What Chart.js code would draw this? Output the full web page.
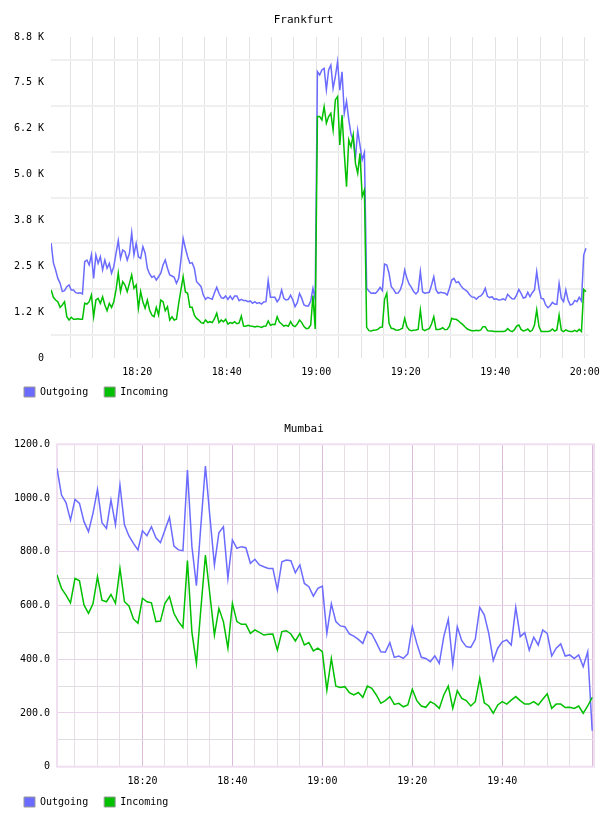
<!DOCTYPE html>
<html>
<head>
<meta charset="utf-8">
<script src="https://cdn.jsdelivr.net/npm/chart.js@4.4.0/dist/chart.umd.min.js"></script>
<style>
  html, body { margin: 0; padding: 0; background: #fff; overflow: hidden; }
  .box { position: absolute; left: 0; width: 608px; }
  #fra-box { top: 0; height: 407px; }
  #mum-box { top: 400px; height: 417px; }
</style>
</head>
<body>
<div class="box" id="fra-box"><canvas id="frankfurt"></canvas></div>
<div class="box" id="mum-box"><canvas id="mumbai"></canvas></div>
<script>
// --- data: minutes after 18:00 ---
const frankfurtStart = 0.75;   // first sample 18:00:45
const frankfurtStep = 0.5;     // 30 s samples
const frankfurtOutgoing = [
  3130, 2600, 2400, 2170, 2040, 1810, 1835, 1945, 1990, 1855,
  1855, 1780, 1765, 1780, 1745, 2625, 2670, 2535, 2810, 2170,
  2810, 2580, 2760, 2400, 2670, 2445, 2580, 2310, 2490, 2855,
  3200, 2715, 2945, 2900, 2670, 2855, 3415, 2810, 3125, 2760,
  2715, 3035, 2855, 2445, 2290, 2200, 2235, 2125, 2215, 2310,
  2535, 2670, 2445, 2265, 2235, 2200, 2035, 2170, 2670, 3260,
  2990, 2760, 2580, 2600, 2445, 2080, 2015, 1945, 1715, 1600,
  1655, 1625, 1600, 1780, 1925, 1765, 1645, 1625, 1690, 1600,
  1690, 1600, 1690, 1690, 1565, 1600, 1565, 1565, 1535, 1555,
  1490, 1535, 1490, 1510, 1470, 1525, 1535, 2110, 1655, 1655,
  1655, 1535, 1620, 1855, 1625, 1580, 1600, 1715, 1580, 1400,
  1510, 1760, 1625, 1445, 1420, 1420, 1550, 1900, 1600, 7805,
  7715, 7850, 7895, 7310, 7850, 7985, 7350, 7670, 8080, 7300,
  7800, 6670, 7000, 6500, 6100, 5950, 5450, 6200, 5800, 5400,
  5600, 1900, 1825, 1765, 1770, 1765, 1835, 1925, 1835, 2560,
  2535, 2310, 1945, 1870, 1765, 1770, 1855, 2035, 2400, 2170,
  2010, 1925, 1810, 1745, 1815, 2355, 1800, 1765, 1780, 1790,
  1990, 2215, 1855, 1765, 1790, 1780, 1765, 1715, 1900, 2125,
  2170, 2055, 2080, 1980, 1900, 1860, 1810, 1725, 1665, 1655,
  1600, 1665, 1690, 1765, 1900, 1680, 1645, 1670, 1600, 1615,
  1580, 1590, 1615, 1580, 1735, 1670, 1615, 1610, 1715, 1870,
  1765, 1635, 1655, 1790, 1670, 1780, 1855, 2355, 1900, 1625,
  1610, 1445, 1370, 1425, 1515, 1470, 1460, 2035, 1625, 1535,
  1855, 1580, 1445, 1470, 1570, 1535, 1655, 1555, 2805, 2990
];
const frankfurtIncoming = [
  1855, 1655, 1580, 1535, 1380, 1445, 1535, 1125, 1035, 1110,
  1055, 1055, 1070, 1055, 1055, 1490, 1470, 1535, 1715, 1125,
  1580, 1625, 1490, 1670, 1445, 1290, 1490, 1380, 1535, 1855,
  2310, 1810, 2080, 1990, 1810, 2035, 2265, 1900, 1990, 1355,
  1810, 1535, 1355, 1580, 1310, 1170, 1125, 1380, 1170, 1580,
  1535, 1290, 1400, 1035, 1125, 1035, 1055, 1490, 1855, 2215,
  1800, 1765, 1380, 1380, 1170, 1080, 1035, 965, 945, 1035,
  965, 990, 965, 1070, 1220, 965, 1035, 990, 1055, 925,
  965, 945, 990, 935, 955, 1145, 870, 865, 890, 870,
  865, 845, 865, 855, 835, 865, 870, 1010, 890, 920,
  910, 1125, 980, 925, 870, 890, 865, 990, 890, 855,
  925, 1035, 965, 855, 800, 810, 900, 1700, 790, 6580,
  6580, 6490, 6850, 6400, 6580, 6670, 6215, 7035, 7125, 5805,
  6625, 5580, 4670, 5945, 5760, 6080, 5305, 5035, 5580, 4400,
  4580, 835, 745, 735, 755, 765, 780, 835, 845, 1600,
  1765, 945, 810, 800, 765, 755, 780, 810, 1080, 855,
  765, 745, 755, 765, 780, 1310, 780, 745, 780, 800,
  925, 1125, 780, 780, 790, 825, 770, 780, 870, 1080,
  1055, 1055, 1015, 955, 910, 845, 790, 765, 745, 745,
  755, 745, 765, 855, 855, 745, 735, 735, 720, 720,
  720, 720, 720, 735, 800, 745, 720, 765, 870, 900,
  780, 735, 755, 790, 720, 755, 900, 1310, 855, 725,
  725, 720, 720, 735, 790, 735, 765, 1170, 755, 720,
  765, 735, 720, 725, 755, 720, 780, 720, 1870, 1810
];
const frankfurtYLabels = ['0', '1.2 K', '2.5 K', '3.8 K', '5.0 K', '6.2 K', '7.5 K', '8.8 K'];
const frankfurtXMinutes = [20, 40, 60, 80, 100, 120];
const frankfurtXLabels = ['18:20', '18:40', '19:00', '19:20', '19:40', '20:00'];

const mumbaiStart = 1;   // 18:01
const mumbaiStep = 1;    // 1 min samples
const mumbaiOutgoing = [
  1110, 1011, 983, 918, 995, 980, 912, 875, 943, 1032,
  908, 887, 993, 900, 1048, 900, 859, 831, 807, 878,
  860, 893, 852, 834, 881, 928, 821, 807, 804, 1104,
  819, 674, 900, 1119, 930, 751, 871, 893, 701, 844,
  813, 819, 815, 757, 772, 751, 744, 738, 738, 658,
  763, 769, 767, 722, 751, 682, 670, 635, 664, 672,
  496, 606, 540, 524, 521, 494, 486, 474, 459, 503,
  494, 462, 428, 426, 462, 407, 412, 403, 420, 521,
  459, 407, 403, 391, 413, 385, 484, 549, 379, 521,
  469, 447, 444, 474, 593, 565, 496, 395, 441, 465,
  472, 453, 593, 484, 499, 434, 482, 453, 509, 496,
  412, 441, 457, 412, 416, 403, 416, 372, 428, 134
];
const mumbaiIncoming = [
  714, 664, 639, 610, 701, 692, 602, 571, 606, 707,
  620, 614, 641, 608, 738, 614, 598, 550, 534, 627,
  614, 610, 540, 542, 608, 633, 571, 540, 518, 767,
  500, 385, 590, 788, 640, 490, 589, 540, 441, 608,
  540, 530, 530, 496, 509, 500, 490, 493, 494, 434,
  503, 506, 494, 468, 496, 453, 462, 431, 441, 428,
  285, 403, 300, 295, 298, 276, 267, 276, 258, 300,
  292, 267, 236, 246, 261, 232, 236, 223, 230, 288,
  246, 226, 221, 242, 233, 217, 267, 300, 217, 283,
  254, 246, 226, 242, 329, 238, 226, 199, 230, 242,
  233, 248, 261, 246, 233, 233, 242, 230, 251, 271,
  217, 233, 233, 220, 221, 217, 226, 199, 226, 258
];
const mumbaiYLabels = ['0', '200.0', '400.0', '600.0', '800.0', '1000.0', '1200.0'];
const mumbaiXMinutes = [20, 40, 60, 80, 100];
const mumbaiXLabels = ['18:20', '18:40', '19:00', '19:20', '19:40'];

const BLUE = '#6b6bff';
const GREEN = '#00c000';

Chart.defaults.font.family = '"DejaVu Sans Mono", monospace';
Chart.defaults.font.size = 10;
Chart.defaults.color = '#000';

function points(start, step, values) {
  return values.map((v, i) => ({ x: start + i * step, y: v }));
}

function lineSet(label, color, start, step, values, order) {
  return {
    label: label,
    data: points(start, step, values),
    borderColor: color,
    backgroundColor: color,
    borderWidth: 1.5,
    pointRadius: 0,
    tension: 0,
    fill: false,
    order: order
  };
}

const legendOpts = {
  position: 'bottom',
  align: 'start',
  labels: {
    boxWidth: 11,
    boxHeight: 10,
    padding: 10,
    color: '#000',
    font: { size: 10 },
    // trailing space widens the gap between the two entries
    generateLabels: chart => Chart.defaults.plugins.legend.labels.generateLabels(chart)
      .map(item => Object.assign(item, { text: item.text + ' ', strokeStyle: '#999', lineWidth: 1 }))
      .sort((a, b) => a.datasetIndex - b.datasetIndex)
  }
};

// frame round the plot (Mumbai only)
const plotFrame = {
  id: 'plotFrame',
  beforeDatasetsDraw(chart, args, opts) {
    const a = chart.chartArea, ctx = chart.ctx;
    ctx.save();
    ctx.strokeStyle = opts.color;
    ctx.lineWidth = 2;
    ctx.strokeRect(a.left, a.top, a.right - a.left, a.bottom - a.top);
    ctx.restore();
  }
};

// 1. Frankfurt
new Chart(document.getElementById('frankfurt'), {
  type: 'line',
  data: {
    datasets: [
      lineSet('Outgoing', BLUE, frankfurtStart, frankfurtStep, frankfurtOutgoing, 1),
      lineSet('Incoming', GREEN, frankfurtStart, frankfurtStep, frankfurtIncoming, 0)
    ]
  },
  options: {
    responsive: true,
    maintainAspectRatio: false,
    animation: false,
    layout: { padding: { left: 14, right: 15, top: 0, bottom: 0 } },
    plugins: {
      title: { display: true, text: 'Frankfurt', color: '#000', font: { size: 11, weight: 'normal' }, padding: { top: 13.4, bottom: 10.4 } },
      legend: legendOpts,
      tooltip: { enabled: false }
    },
    scales: {
      x: {
        type: 'linear', min: 0.72, max: 120.9,
        afterFit: s => { s.height = 19; },
        border: { display: false },
        grid: { color: '#e3e3e3', lineWidth: 1, drawTicks: false },
        ticks: {
          stepSize: 5, includeBounds: false, autoSkip: false, maxRotation: 0, padding: 8,
          callback: v => { const k = frankfurtXMinutes.indexOf(v); return k >= 0 ? frankfurtXLabels[k] : ''; }
        }
      },
      y: {
        min: 0, max: 8750,
        afterFit: s => { s.width = 37; },
        border: { display: false },
        grid: { drawTicks: false, lineWidth: 2, color: c => c.tick.value % 1250 === 0 ? 'rgba(0,0,0,0)' : '#efefef' },
        ticks: {
          stepSize: 625, autoSkip: false, padding: 7,
          callback: v => v % 1250 === 0 ? frankfurtYLabels[v / 1250] : ''
        }
      }
    }
  }
});

// 2. Mumbai
new Chart(document.getElementById('mumbai'), {
  type: 'line',
  data: {
    datasets: [
      lineSet('Outgoing', BLUE, mumbaiStart, mumbaiStep, mumbaiOutgoing, 1),
      lineSet('Incoming', GREEN, mumbaiStart, mumbaiStep, mumbaiIncoming, 0)
    ]
  },
  plugins: [plotFrame],
  options: {
    responsive: true,
    maintainAspectRatio: false,
    animation: false,
    layout: { padding: { left: 14, right: 14, top: 0, bottom: 0 } },
    plugins: {
      title: { display: true, text: 'Mumbai', color: '#000', font: { size: 11, weight: 'normal' }, padding: { top: 22.4, bottom: 8.7 } },
      legend: legendOpts,
      tooltip: { enabled: false },
      plotFrame: { color: '#efdff0' }
    },
    scales: {
      x: {
        type: 'linear', min: 1, max: 120.4,
        afterFit: s => { s.height = 20.3; },
        border: { display: false },
        grid: { drawTicks: false, lineWidth: 1, color: c => c.tick.value % 20 === 0 ? '#dbbcdb' : '#e6dfe6' },
        ticks: {
          stepSize: 5, includeBounds: false, autoSkip: false, maxRotation: 0, padding: 9,
          callback: v => { const k = mumbaiXMinutes.indexOf(v); return k >= 0 ? mumbaiXLabels[k] : ''; }
        }
      },
      y: {
        min: 0, max: 1200,
        afterFit: s => { s.width = 43; },
        border: { display: false },
        grid: { drawTicks: false, lineWidth: 1, color: c => c.tick.value % 200 === 0 ? '#e9d3e9' : '#e1dce1' },
        ticks: {
          stepSize: 100, autoSkip: false, padding: 7,
          callback: v => v % 200 === 0 ? mumbaiYLabels[v / 200] : ''
        }
      }
    }
  }
});
</script>
</body>
</html>
